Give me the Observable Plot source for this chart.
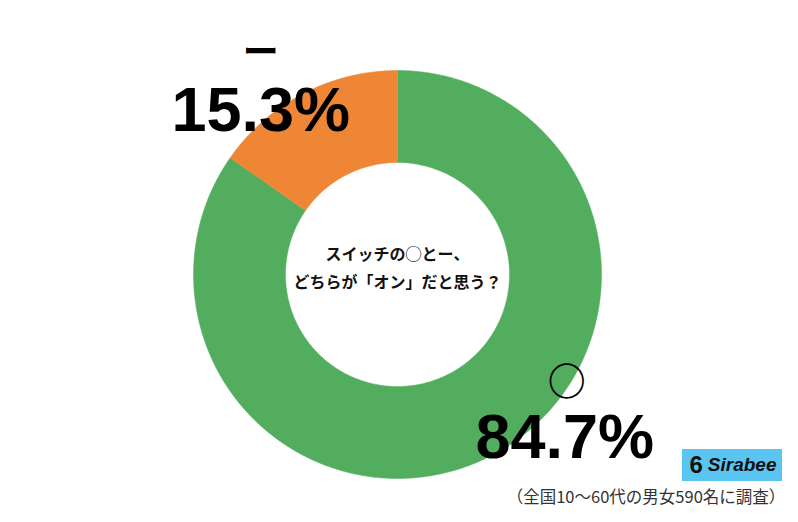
<!DOCTYPE html>
<html><head><meta charset="utf-8">
<script src="https://cdn.jsdelivr.net/npm/d3@7"></script>
<script src="https://cdn.jsdelivr.net/npm/@observablehq/plot@0.6"></script>
<style>
html,body{margin:0;padding:0;background:#fff;}
#wrap{position:relative;width:798px;height:522px;}
#logo{position:absolute;left:682px;top:449px;width:100px;height:32px;background:#5BC5F2;display:flex;align-items:center;justify-content:center;font-family:"Liberation Sans",Arial,sans-serif;font-weight:bold;font-style:italic;font-size:19px;color:#111;}
#logo .ic{font-style:normal;font-size:24px;margin-right:5px;margin-left:2px;}
#cap{position:absolute;left:496px;width:300px;top:484px;text-align:center;font-family:"Noto Sans CJK JP",sans-serif;font-size:16.5px;color:#333;white-space:nowrap;}
</style></head>
<body><div id="wrap"></div>
<script>
const categories = ["○", "ー"];
const shares = [84.7, 15.3];
const colors = ["#52AE5E", "#EE8636"];
const valueLabels = ["84.7%", "15.3%"];
const questionLines = ["スイッチの◯とー、", "どちらが「オン」だと思う？"];
const caption = "（全国10〜60代の男女590名に調査）";

const cx = 397, cy = 274, R = 204, r = 112;
const innerFrac = r / R;

const pie = d3.pie().sort(null).value(d => d.share);
const slices = pie(categories.map((c, i) => ({cat: c, share: shares[i]})));

// build ring polygons in unit coordinates (y up)
const poly = [];
slices.forEach(s => {
  const n = Math.max(8, Math.ceil((s.endAngle - s.startAngle) / 0.01));
  const pts = [];
  for (let k = 0; k <= n; k++) {
    const a = s.startAngle + (s.endAngle - s.startAngle) * k / n;
    pts.push([Math.sin(a), Math.cos(a)]);
  }
  for (let k = n; k >= 0; k--) {
    const a = s.startAngle + (s.endAngle - s.startAngle) * k / n;
    pts.push([innerFrac * Math.sin(a), innerFrac * Math.cos(a)]);
  }
  pts.forEach(p => poly.push({cat: s.data.cat, x: p[0], y: p[1]}));
});

// label anchors (unit coords)
const labelPos = {"○": [0.82, -0.78], "ー": [-0.67, 0.82]};
const labels = categories.map((c, i) => ({cat: c, label: valueLabels[i], x: labelPos[c][0], y: labelPos[c][1]}));

const chart = Plot.plot({
  width: 798, height: 522,
  margin: 0,
  x: {domain: [-1, 1], range: [cx - R, cx + R], axis: null},
  y: {domain: [-1, 1], range: [cy + R, cy - R], axis: null},
  color: {domain: categories, range: colors},
  style: {background: "#fff"},
  marks: [
    Plot.line(poly, {x: "x", y: "y", z: "cat", fill: "cat", stroke: "cat", strokeWidth: 0.5, curve: "linear-closed"}),
    Plot.text(labels, {x: "x", y: "y", text: "label", fontSize: 63, fontWeight: "bold", fill: "#000",
      fontFamily: "Liberation Sans, Arial, sans-serif", letterSpacing: 0, textAnchor: "middle", lineAnchor: "bottom", dy: 24}),
    Plot.text(labels.filter(d => d.cat === "ー"), {x: "x", y: "y", text: "cat", fontSize: 36, fontWeight: "bold", fill: "#000",
      fontFamily: "Noto Sans CJK JP, sans-serif", textAnchor: "middle", dy: -54, dx: 0}),
    Plot.text(labels.filter(d => d.cat === "○"), {x: "x", y: "y", text: "cat", fontSize: 38, fontWeight: "bold", fill: "#000",
      fontFamily: "Noto Sans CJK JP, sans-serif", textAnchor: "middle", dy: -51, dx: 2}),
    Plot.text([questionLines.join("\n")], {x: 0, y: 0, text: d => d, fontSize: 16, fontWeight: "bold", fill: "#111",
      fontFamily: "Noto Sans CJK JP, sans-serif", lineHeight: 1.75, textAnchor: "middle", dy: -9})
  ]
});
const wrap = document.getElementById("wrap");
wrap.appendChild(chart);
const logo = document.createElement("div");
logo.id = "logo";
logo.innerHTML = '<span class="ic">6</span>Sirabee';
wrap.appendChild(logo);
const cap = document.createElement("div");
cap.id = "cap";
cap.textContent = caption;
wrap.appendChild(cap);
</script></body></html>
